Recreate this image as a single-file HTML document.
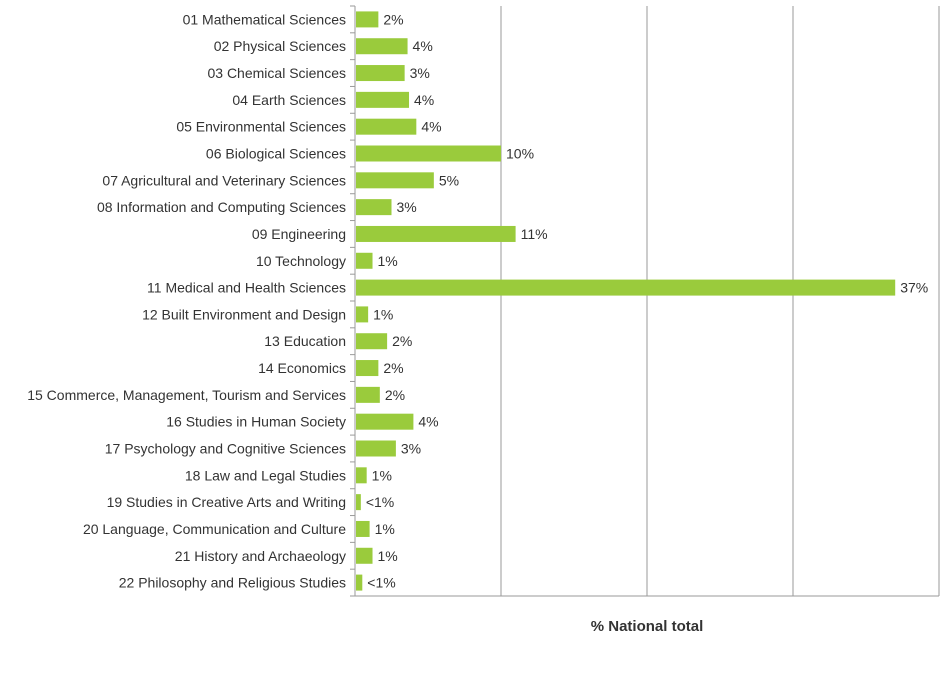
<!DOCTYPE html>
<html><head><meta charset="utf-8"><style>
body{margin:0;background:#fff;font-family:"Liberation Sans",sans-serif;}
svg text{font-family:"Liberation Sans",sans-serif;}
</style></head><body>
<svg id="chart" width="945" height="679" xmlns="http://www.w3.org/2000/svg"></svg>
<script>
const categories=["01 Mathematical Sciences","02 Physical Sciences","03 Chemical Sciences","04 Earth Sciences","05 Environmental Sciences","06 Biological Sciences","07 Agricultural and Veterinary Sciences","08 Information and Computing Sciences","09 Engineering","10 Technology","11 Medical and Health Sciences","12 Built Environment and Design","13 Education","14 Economics","15 Commerce, Management, Tourism and Services","16 Studies in Human Society","17 Psychology and Cognitive Sciences","18 Law and Legal Studies","19 Studies in Creative Arts and Writing","20 Language, Communication and Culture","21 History and Archaeology","22 Philosophy and Religious Studies"];
const values=[1.6,3.6,3.4,3.7,4.2,10,5.4,2.5,11,1.2,37,0.9,2.2,1.6,1.7,4,2.8,0.8,0.4,1.0,1.2,0.5];
const valueLabels=["2%","4%","3%","4%","4%","10%","5%","3%","11%","1%","37%","1%","2%","2%","2%","4%","3%","1%","<1%","1%","1%","<1%"];
const gridTicks=[10,20,30,40];
const svg=document.getElementById('chart');
const NS='http://www.w3.org/2000/svg';
const x0=355,plotTop=6,plotBottom=596,pxPer=14.6;
const xs=v=>x0+v*pxPer;
const pitch=(plotBottom-plotTop)/categories.length;
function mk(t,a){const e=document.createElementNS(NS,t);for(const k in a)e.setAttribute(k,a[k]);svg.appendChild(e);return e;}
gridTicks.forEach(t=>{
 const g=mk('line',{x1:xs(t),x2:xs(t),y1:plotTop,y2:plotBottom,stroke:'#9a9a9a','stroke-width':1});
 
 
});
const ax=mk('line',{x1:x0,x2:x0,y1:plotTop,y2:plotBottom,stroke:'#9a9a9a','stroke-width':1});


const bx=mk('line',{x1:x0,x2:xs(40),y1:plotBottom,y2:plotBottom,stroke:'#9a9a9a','stroke-width':1});


for(let i=0;i<=categories.length;i++){
 const tk=mk('line',{x1:x0-5,x2:x0,y1:plotTop+i*pitch,y2:plotTop+i*pitch,stroke:'#9a9a9a','stroke-width':1});
 
 
}
categories.forEach((c,i)=>{
 const yc=plotTop+i*pitch+pitch/2;
 const l=mk('text',{x:346,y:yc+5,'text-anchor':'end','font-size':14,fill:'#333'});
 l.textContent=c;
 
 
 const b=mk('rect',{x:x0+1,y:yc-8,width:Math.max(0,xs(values[i])-x0-1),height:16,fill:'#9acb3c'});
 
 
 const v=mk('text',{x:xs(values[i])+5,y:yc+5,'font-size':14,fill:'#333'});
 v.textContent=valueLabels[i];
 
 
});
const t=mk('text',{x:647,y:631,'text-anchor':'middle','font-size':15,'font-weight':'bold',fill:'#333'});
t.textContent='% National total';


</script>
</body></html>
